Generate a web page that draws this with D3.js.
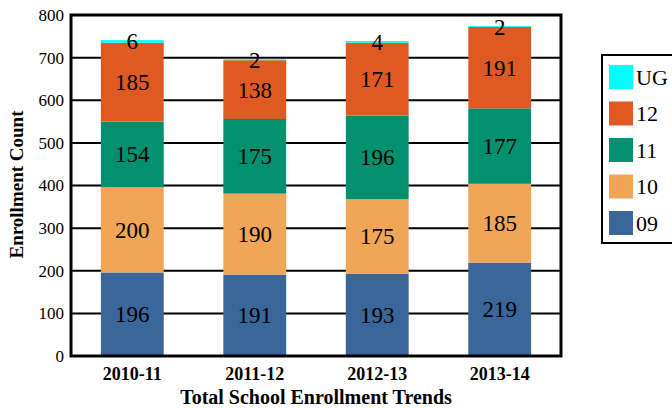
<!DOCTYPE html>
<html>
<head>
<meta charset="utf-8">
<script src="https://cdn.jsdelivr.net/npm/d3@7"></script>
<style>
  body { margin: 0; background: #fff; }
</style>
</head>
<body>
<svg width="672" height="408"></svg>
<script>
let years = ["2010-11", "2011-12", "2012-13", "2013-14"];
let grades = ["09", "10", "11", "12", "UG"];
let g09 = [196, 191, 193, 219];
let g10 = [200, 190, 175, 185];
let g11 = [154, 175, 196, 177];
let g12 = [185, 138, 171, 191];
let gUG = [6, 2, 4, 2];
let yTicks = [0, 100, 200, 300, 400, 500, 600, 700, 800];
let colors = ["#3b6699", "#f0a557", "#02906f", "#df5a22", "#00ffff"];

let serif = "Liberation Serif";

let rows = years.map(function (y, i) {
    return { year: y, "09": g09[i], "10": g10[i], "11": g11[i], "12": g12[i], "UG": gUG[i] };
});

let margin = { top: 15, left: 71 };
let width = 490, height = 341;

let svg = d3.select("svg").attr("font-family", serif);
let g = svg.append("g")
    .attr("transform", "translate(" + margin.left + "," + margin.top + ")");

let x = d3.scaleBand()
    .domain(years)
    .range([0, width])
    .paddingInner(0.487)
    .paddingOuter(0.244);

let y = d3.scaleLinear()
    .domain([0, 800])
    .range([height, 0]);

let color = d3.scaleOrdinal().domain(grades).range(colors);

// grid lines
g.selectAll(".grid")
    .data(yTicks)
    .enter().append("line")
    .attr("x1", 0)
    .attr("x2", width)
    .attr("y1", function (d) { return y(d) })
    .attr("y2", function (d) { return y(d) })
    .attr("stroke", "#000")
    .attr("stroke-width", 2);

let stack = d3.stack().keys(grades)(rows);

let layer = g.selectAll(".layer")
    .data(stack)
    .enter().append("g")
    .attr("fill", function (d) { return color(d.key) });

layer.selectAll("rect")
    .data(function (d) { return d })
    .enter().append("rect")
    .attr("x", function (d) { return x(d.data.year) })
    .attr("width", x.bandwidth())
    .attr("y", function (d) { return y(d[1]) })
    .attr("height", function (d) { return y(d[0]) - y(d[1]) });

layer.selectAll("text")
    .data(function (d) { return d })
    .enter().append("text")
    .attr("x", function (d) { return x(d.data.year) + x.bandwidth() / 2 })
    .attr("y", function (d) { return y((d[0] + d[1]) / 2) })
    .attr("dy", "0.35em")
    .attr("text-anchor", "middle")
    .attr("fill", "#000")
    .attr("font-family", serif)
    .attr("font-size", 23)
    .text(function (d) { return d[1] - d[0] });

// frame
g.append("rect")
    .attr("width", width)
    .attr("height", height)
    .attr("fill", "none")
    .attr("stroke", "#000")
    .attr("stroke-width", 3);

// y axis
let yAxis = g.append("g")
    .call(d3.axisLeft(y).tickValues(yTicks).tickSize(0).tickPadding(7));
yAxis.select(".domain").remove();
yAxis.selectAll("text")
    .attr("font-family", serif)
    .attr("font-size", 17)
    .attr("fill", "#000");

// x axis
let xAxis = g.append("g")
    .attr("transform", "translate(0," + height + ")")
    .call(d3.axisBottom(x).tickSize(0).tickPadding(11));
xAxis.select(".domain").remove();
xAxis.selectAll("text")
    .attr("font-family", serif)
    .attr("font-size", 18)
    .attr("font-weight", "bold")
    .attr("fill", "#000");

svg.append("text")
    .attr("x", margin.left + width / 2)
    .attr("y", 404)
    .attr("text-anchor", "middle")
    .attr("font-family", serif)
    .attr("font-size", 20)
    .attr("font-weight", "bold")
    .text("Total School Enrollment Trends");

svg.append("text")
    .attr("transform", "translate(23," + (margin.top + height / 2 - 1) + ") rotate(-90)")
    .attr("text-anchor", "middle")
    .attr("font-family", serif)
    .attr("font-size", 19)
    .attr("font-weight", "bold")
    .text("Enrollment Count");

// legend
let legend = svg.append("g").attr("transform", "translate(602,55)");
legend.append("rect")
    .attr("width", 90)
    .attr("height", 188)
    .attr("fill", "#fff")
    .attr("stroke", "#000")
    .attr("stroke-width", 2);

let items = legend.selectAll(".item")
    .data(grades.slice().reverse())
    .enter().append("g")
    .attr("transform", function (d, i) { return "translate(7," + (10 + i * 36.5) + ")" });

items.append("rect")
    .attr("width", 24)
    .attr("height", 24)
    .attr("fill", function (d) { return color(d) });

items.append("text")
    .attr("x", 27)
    .attr("y", 12)
    .attr("dy", "0.35em")
    .attr("font-family", serif)
    .attr("font-size", 22)
    .text(function (d) { return d });
</script>
</body>
</html>
